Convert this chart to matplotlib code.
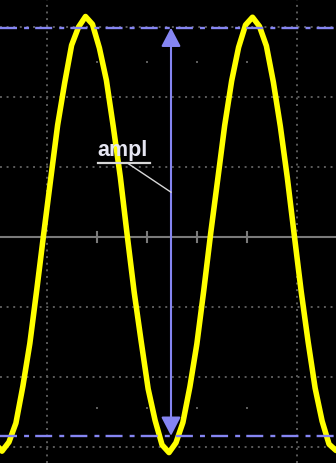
import matplotlib.pyplot as plt

# Scope trace: time in divisions, voltage in divisions
time_div = [-1.039, -0.900, -0.761, -0.622, -0.482, -0.343, -0.204, -0.065,
            0.074, 0.213, 0.353, 0.492, 0.631, 0.770, 0.909, 1.048,
            1.188, 1.327, 1.466, 1.605, 1.744, 1.883, 2.023, 2.162,
            2.301, 2.440, 2.579, 2.718, 2.858, 2.997, 3.136, 3.275,
            3.414, 3.553, 3.693, 3.832, 3.971, 4.110, 4.249, 4.388,
            4.528, 4.667, 4.806, 4.945, 5.084, 5.223, 5.363, 5.502,
            5.641, 5.780, 5.919]
volts_div = [-2.95, -3.06, -2.93, -2.66, -2.13, -1.52, -0.75, 0.05,
             0.83, 1.60, 2.20, 2.74, 3.00, 3.15, 3.04, 2.70,
             2.24, 1.57, 0.86, 0.02, -0.79, -1.49, -2.17, -2.62,
             -2.97, -3.08, -2.94, -2.65, -2.14, -1.53, -0.76, 0.06,
             0.82, 1.59, 2.23, 2.71, 3.03, 3.14, 3.01, 2.73,
             2.21, 1.58, 0.85, 0.03, -0.78, -1.50, -2.16, -2.63,
             -2.96, -3.05, -2.95]

# amplitude cursors
cursor_high = 2.99
cursor_low = -2.84
cursor_time = 2.48
label_text = 'ampl'

grid_v = [-3, -2, -1, 1, 2, 3]
grid_t = [0, 5]
minor_t = [1, 2, 3, 4]
minor_dot_v = [2.5, -2.45]

blue = '#8585f2'
grey = '#5c5c5c'

fig = plt.figure(figsize=(3.36, 4.63), dpi=100)
ax = fig.add_axes([0, 0, 1, 1])
ax.set_facecolor('black')
ax.set_xlim(-0.94, 5.78)
ax.set_ylim(-3.229, 3.386)
ax.axis('off')
fig.patch.set_facecolor('black')

# graticule
for v in grid_v:
    ax.axhline(v, color=grey, lw=1.4, ls=(0, (1, 2.4)), zorder=1)
for t in grid_t:
    ax.axvline(t, color=grey, lw=1.4, ls=(0, (1, 2.4)), zorder=1)
ax.axhline(0, color='#7a7a7a', lw=1.5, zorder=1)
for t in minor_t:
    ax.plot([t, t], [-0.07, 0.07], color='#7a7a7a', lw=1.5, zorder=1)
    for v in minor_dot_v:
        ax.plot(t, v, 's', color=grey, ms=1.5, mew=0, zorder=1)

# trace
ax.plot(time_div, volts_div, color='#ffff00', lw=4.0, solid_joinstyle='round', zorder=2)

# cursors
for v in [cursor_high, cursor_low]:
    ax.axhline(v, color=blue, lw=1.7, ls=(0, (7.2, 3.0, 2.1, 2.6)), zorder=3)
ax.annotate('', xy=(cursor_time, cursor_high), xytext=(cursor_time, cursor_low),
            arrowprops=dict(arrowstyle='<|-|>,head_length=1.15,head_width=0.6',
                            color=blue, lw=1.5, shrinkA=0, shrinkB=0), zorder=4)

# label with underline and leader
ax.text(1.5, 1.16, label_text, color='#e6e6f2', fontsize=15.5, fontweight='bold',
        family='Liberation Sans', ha='center', va='baseline', zorder=5)
ax.plot([1.02, 2.06], [1.06, 1.06], color='#d8d8d8', lw=1.6, zorder=5)
ax.plot([1.6, cursor_time], [1.06, 0.64], color='#d8d8d8', lw=1.0, zorder=5)

fig.savefig('out.png', dpi=100, facecolor='black')
